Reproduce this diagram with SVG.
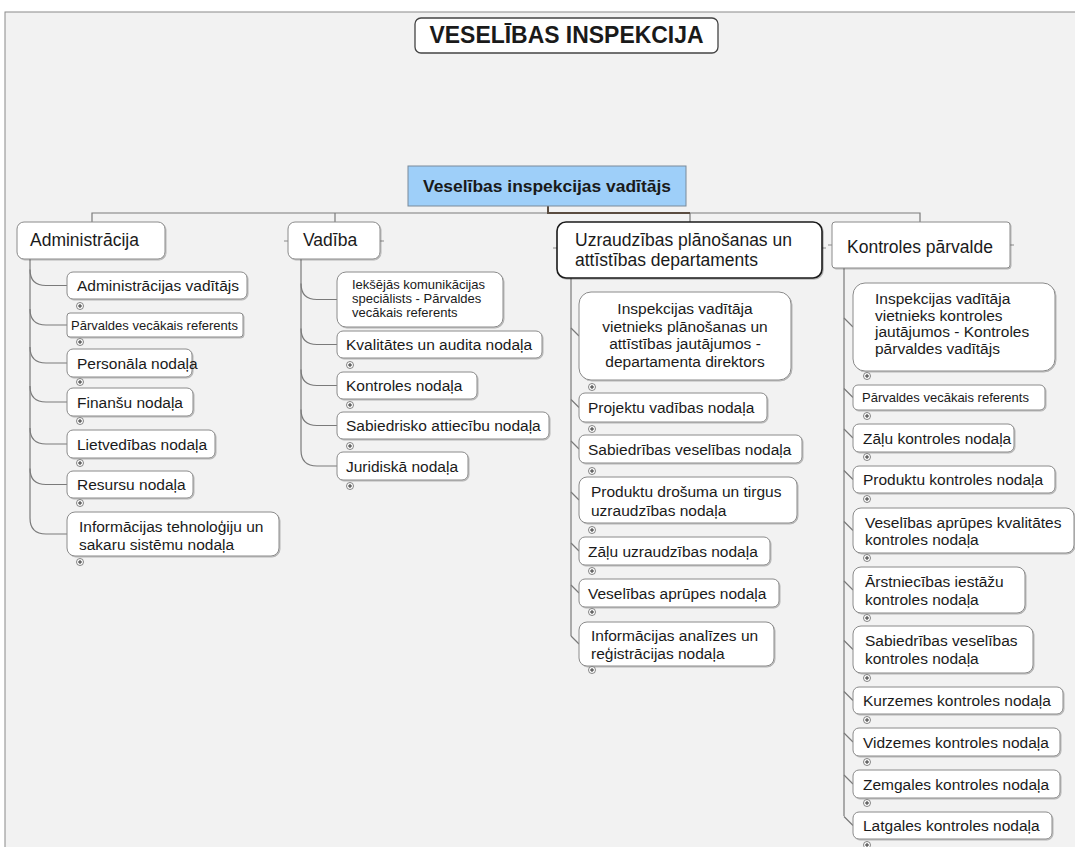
<svg xmlns="http://www.w3.org/2000/svg" width="1075" height="847" viewBox="0 0 1075 847">
<style>
text{font-family:"Liberation Sans",Arial,sans-serif;fill:#1a1a1a}
.t{font-size:15.5px}
.s{font-size:13px}
.b{font-size:17.5px}
.box{fill:#fff;stroke:#8a8a8a;stroke-width:1;filter:url(#sh)}
.con{fill:none;stroke:#7a7a7a;stroke-width:1.2}
.tab{stroke:#8a8a8a;stroke-width:1}
</style>
<defs>
<filter id="sh" x="-5%" y="-10%" width="115%" height="130%">
<feDropShadow dx="1" dy="1" stdDeviation="0.6" flood-color="#000" flood-opacity="0.25"/>
</filter>
<g id="plus"><circle r="3.5" fill="#fff" stroke="#666" stroke-width="0.8"/><path d="M-2,0H2M0,-2V2" stroke="#333" stroke-width="1"/></g>
</defs>
<rect x="0" y="0" width="1075" height="847" fill="#fff"/>
<rect x="5" y="12" width="1075" height="840" fill="#f2f2f2" stroke="#8a8a8a" stroke-width="1"/>

<g id="title">
<rect x="415" y="18" width="303" height="35" rx="6" fill="#fff" stroke="#444" stroke-width="1.3"/>
<text x="566.5" y="43" text-anchor="middle" font-size="23" font-weight="bold" textLength="274" lengthAdjust="spacingAndGlyphs">VESELĪBAS INSPEKCIJA</text>
</g>

<g id="connectors">
<path class="con" d="M92,222V213H920V222M335,213V222M690,213V222"/>
<path d="M548,206V213H690" fill="none" stroke="#5a4c40" stroke-width="2"/>
<!-- Administracija -->
<path class="con" d="M30,259V518"/>
<path class="con" d="M30,269.5Q30,285.5 46,285.5H67M30,309Q30,325 46,325H67M30,347Q30,363 46,363H67M30,386Q30,402 46,402H67M30,428Q30,444 46,444H67M30,468.5Q30,484.5 46,484.5H67M30,518Q30,534 46,534H67"/>
<!-- Vadiba -->
<path class="con" d="M301,259V450"/>
<path class="con" d="M301,283.5Q301,299.5 317,299.5H337M301,328.5Q301,344.5 317,344.5H337M301,369.5Q301,385.5 317,385.5H337M301,409.5Q301,425.5 317,425.5H337M301,450Q301,466 317,466H337"/>
<!-- Uzraudzibas -->
<path class="con" d="M571,278V636"/>
<path class="con" d="M571,328L579,336M571,399.5L579,407.5M571,441L579,449M571,492L579,500M571,543L579,551M571,585L579,593M571,636L579,644"/>
<!-- Kontroles -->
<path class="con" d="M844,268V816"/>
<path class="con" d="M844,318L853,327M844,388.5L853,397.5M844,429L853,438M844,470.5L853,479.5M844,521.5L853,530.5M844,581L853,590M844,640.5L853,649.5M844,691.5L853,700.5M844,733L853,742M844,775L853,784M844,816.5L853,825.5"/>
<!-- tabs -->
<path class="tab" d="M284,241H288M380,241H384M553,248H557M822,248H826M828,245H832M1010,245H1014"/>
</g>

<g id="root">
<rect x="408" y="166" width="278" height="40" fill="#9ecff9" stroke="#7a8a99" stroke-width="1"/>
<text x="547" y="192" text-anchor="middle" font-size="17" font-weight="bold" textLength="248" lengthAdjust="spacingAndGlyphs">Veselības inspekcijas vadītājs</text>
</g>

<g id="administracija">
<rect class="box" x="17" y="222" width="148" height="37" rx="7"/>
<text class="b" x="30" y="246">Administrācija</text>
</g>
<g id="vadiba">
<rect class="box" x="288" y="222" width="92" height="37" rx="7"/>
<text class="b" x="303" y="246">Vadība</text>
</g>
<g id="uzraudzibas">
<rect x="557" y="222" width="265" height="56" rx="9" fill="#fff" stroke="#1a1a1a" stroke-width="1.6" filter="url(#sh)"/>
<text class="b" x="575" y="246">Uzraudzības plānošanas un</text>
<text class="b" x="575" y="266">attīstības departaments</text>
</g>
<g id="kontroles">
<rect class="box" x="832" y="222" width="178" height="46" rx="3"/>
<text class="b" x="847" y="253">Kontroles pārvalde</text>
</g>

<!-- Administracija children -->
<g id="a1"><rect class="box" x="67" y="272" width="180" height="27" rx="6"/><text class="t" x="77" y="291">Administrācijas vadītājs</text><use href="#plus" x="80" y="306"/></g>
<g id="a2"><rect class="box" x="67" y="313" width="176" height="24" rx="3"/><text class="s" x="71" y="330">Pārvaldes vecākais referents</text><use href="#plus" x="80" y="342"/></g>
<g id="a3"><rect class="box" x="67" y="349" width="125" height="28" rx="6"/><text class="t" x="77" y="368.5">Personāla nodaļa</text><use href="#plus" x="80" y="382"/></g>
<g id="a4"><rect class="box" x="67" y="388" width="126" height="28" rx="6"/><text class="t" x="77" y="407.5">Finanšu nodaļa</text><use href="#plus" x="80" y="421"/></g>
<g id="a5"><rect class="box" x="67" y="430" width="148" height="28" rx="6"/><text class="t" x="77" y="449.5">Lietvedības nodaļa</text><use href="#plus" x="80" y="463"/></g>
<g id="a6"><rect class="box" x="67" y="471" width="126" height="27" rx="6"/><text class="t" x="77" y="490">Resursu nodaļa</text><use href="#plus" x="80" y="503"/></g>
<g id="a7"><rect class="box" x="67" y="512" width="212" height="44" rx="8"/><text class="t" x="79" y="532">Informācijas tehnoloģiju un</text><text class="t" x="79" y="550">sakaru sistēmu nodaļa</text><use href="#plus" x="80" y="562"/></g>

<!-- Vadiba children -->
<g id="v1"><rect class="box" x="337" y="272" width="166" height="55" rx="9"/><text class="s" x="352" y="289">Iekšējās komunikācijas</text><text class="s" x="352" y="303">speciālists - Pārvaldes</text><text class="s" x="352" y="317">vecākais referents</text></g>
<g id="v2"><rect class="box" x="337" y="331" width="205" height="27" rx="6"/><text class="t" x="346" y="350">Kvalitātes un audita nodaļa</text><use href="#plus" x="350" y="365"/></g>
<g id="v3"><rect class="box" x="337" y="372" width="140" height="27" rx="6"/><text class="t" x="346" y="391">Kontroles nodaļa</text><use href="#plus" x="350" y="405"/></g>
<g id="v4"><rect class="box" x="337" y="412" width="212" height="27" rx="6"/><text class="t" x="346" y="431">Sabiedrisko attiecību nodaļa</text><use href="#plus" x="350" y="446"/></g>
<g id="v5"><rect class="box" x="337" y="452" width="131" height="28" rx="6"/><text class="t" x="346" y="471.5">Juridiskā nodaļa</text><use href="#plus" x="350" y="486"/></g>

<!-- Uzraudzibas children -->
<g id="u1"><rect class="box" x="579" y="292" width="212" height="88" rx="12"/>
<text class="t" x="685" y="314" text-anchor="middle">Inspekcijas vadītāja</text>
<text class="t" x="685" y="331.5" text-anchor="middle">vietnieks plānošanas un</text>
<text class="t" x="685" y="349" text-anchor="middle">attīstības jautājumos -</text>
<text class="t" x="685" y="366.5" text-anchor="middle">departamenta direktors</text>
<use href="#plus" x="592" y="387"/></g>
<g id="u2"><rect class="box" x="579" y="393" width="188" height="29" rx="6"/><text class="t" x="588" y="413">Projektu vadības nodaļa</text><use href="#plus" x="592" y="429"/></g>
<g id="u3"><rect class="box" x="579" y="435" width="223" height="28" rx="6"/><text class="t" x="588" y="454.5">Sabiedrības veselības nodaļa</text><use href="#plus" x="592" y="471"/></g>
<g id="u4"><rect class="box" x="579" y="477" width="218" height="46" rx="8"/><text class="t" x="591" y="497">Produktu drošuma un tirgus</text><text class="t" x="591" y="516">uzraudzības nodaļa</text><use href="#plus" x="592" y="530"/></g>
<g id="u5"><rect class="box" x="579" y="537" width="191" height="28" rx="6"/><text class="t" x="588" y="556.5">Zāļu uzraudzības nodaļa</text><use href="#plus" x="592" y="571"/></g>
<g id="u6"><rect class="box" x="579" y="579" width="200" height="28" rx="6"/><text class="t" x="588" y="598.5">Veselības aprūpes nodaļa</text><use href="#plus" x="592" y="612"/></g>
<g id="u7"><rect class="box" x="579" y="622" width="195" height="44" rx="8"/><text class="t" x="591" y="641">Informācijas analīzes un</text><text class="t" x="591" y="659">reģistrācijas nodaļa</text><use href="#plus" x="592" y="670"/></g>

<!-- Kontroles children -->
<g id="k1"><rect class="box" x="853" y="283" width="202" height="88" rx="12"/>
<text class="t" x="875" y="304">Inspekcijas vadītāja</text>
<text class="t" x="875" y="320.5">vietnieks kontroles</text>
<text class="t" x="875" y="337">jautājumos - Kontroles</text>
<text class="t" x="875" y="353.5">pārvaldes vadītājs</text>
<use href="#plus" x="867" y="376"/></g>
<g id="k2"><rect class="box" x="853" y="385" width="192" height="25" rx="5"/><text class="s" x="862" y="402">Pārvaldes vecākais referents</text><use href="#plus" x="867" y="416"/></g>
<g id="k3"><rect class="box" x="853" y="424" width="161" height="28" rx="6"/><text class="t" x="863" y="443.5">Zāļu kontroles nodaļa</text><use href="#plus" x="867" y="457"/></g>
<g id="k4"><rect class="box" x="853" y="466" width="202" height="27" rx="6"/><text class="t" x="863" y="485">Produktu kontroles nodaļa</text><use href="#plus" x="867" y="499"/></g>
<g id="k5"><rect class="box" x="853" y="508" width="221" height="45" rx="8"/><text class="t" x="865" y="527.5">Veselības aprūpes kvalitātes</text><text class="t" x="865" y="545">kontroles nodaļa</text><use href="#plus" x="867" y="558"/></g>
<g id="k6"><rect class="box" x="853" y="567" width="172" height="46" rx="8"/><text class="t" x="865" y="587">Ārstniecības iestāžu</text><text class="t" x="865" y="604.5">kontroles nodaļa</text><use href="#plus" x="867" y="618"/></g>
<g id="k7"><rect class="box" x="853" y="626" width="180" height="47" rx="8"/><text class="t" x="865" y="645.5">Sabiedrības veselības</text><text class="t" x="865" y="663.5">kontroles nodaļa</text><use href="#plus" x="867" y="678"/></g>
<g id="k8"><rect class="box" x="853" y="687" width="210" height="27" rx="6"/><text class="t" x="863" y="706">Kurzemes kontroles nodaļa</text><use href="#plus" x="867" y="720"/></g>
<g id="k9"><rect class="box" x="853" y="728" width="207" height="28" rx="6"/><text class="t" x="863" y="747.5">Vidzemes kontroles nodaļa</text><use href="#plus" x="867" y="762"/></g>
<g id="k10"><rect class="box" x="853" y="770" width="207" height="28" rx="6"/><text class="t" x="863" y="789.5">Zemgales kontroles nodaļa</text><use href="#plus" x="867" y="803"/></g>
<g id="k11"><rect class="box" x="853" y="812" width="199" height="27" rx="6"/><text class="t" x="863" y="831">Latgales kontroles nodaļa</text><use href="#plus" x="867" y="845"/></g>
</svg>
